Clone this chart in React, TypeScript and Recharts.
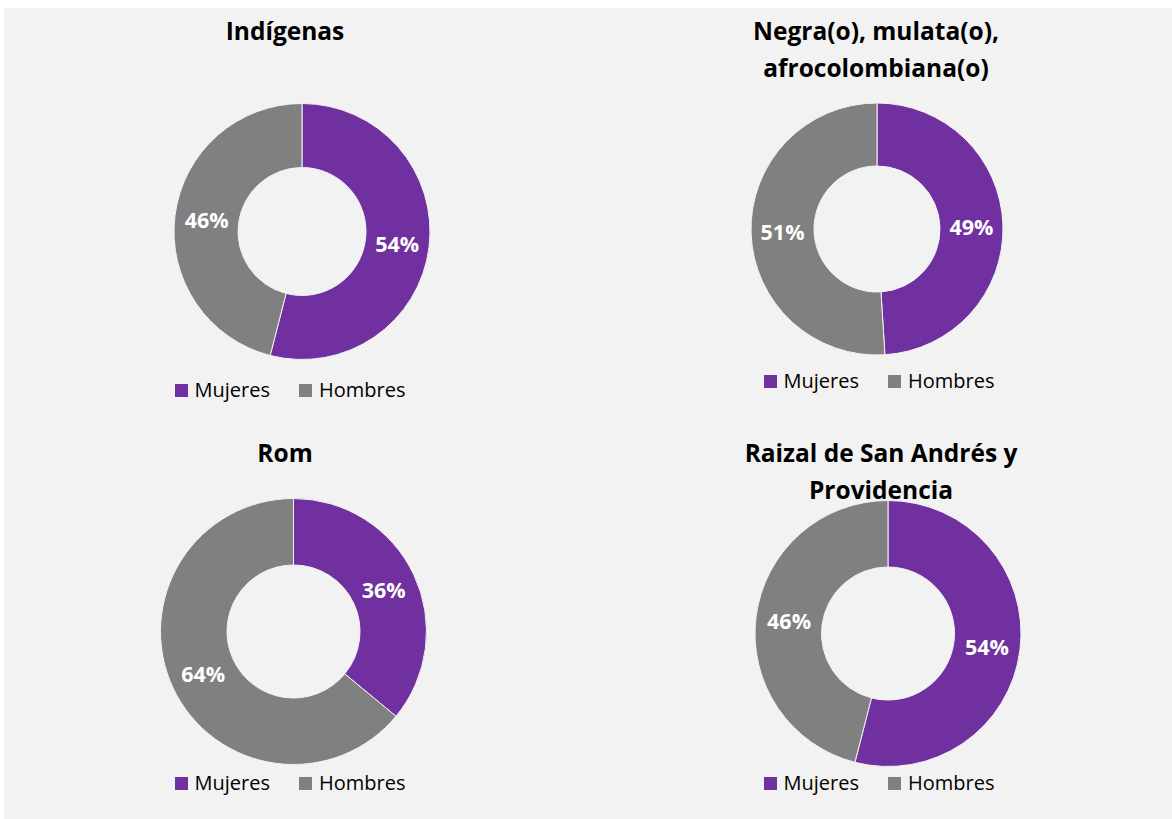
import React from 'react';
import { Cell, Legend, Pie, PieChart } from 'recharts';

// shares by sex for each ethnic group (%)
const groupTitles: string[][] = [
  ['Indígenas'],
  ['Negra(o), mulata(o),', 'afrocolombiana(o)'],
  ['Rom'],
  ['Raizal de San Andrés y', 'Providencia'],
];
const sexLabels = ['Mujeres', 'Hombres'];
const mujeresPct = [54, 49, 36, 54];
const hombresPct = [46, 51, 64, 46];

const COLORS = ['#7030A0', '#808080'];
const FONT = '"Open Sans", sans-serif';
const RADIAN = Math.PI / 180;

// panel layout (page coords)
const panels = [
  { left: 4, top: 8, cx: 298, cy: 223.5, r: 128, titleX: 281, titleY: 22, legendX: 286, legendY: 382 },
  { left: 588, top: 8, cx: 289, cy: 221, r: 126, titleX: 288, titleY: 22, legendX: 291, legendY: 373 },
  { left: 4, top: 413, cx: 289.5, cy: 218.5, r: 133, titleX: 281, titleY: 39, legendX: 286, legendY: 370 },
  { left: 588, top: 413, cx: 300, cy: 220.5, r: 133, titleX: 293, titleY: 39, legendX: 291, legendY: 370 },
];

const PW = 584;
const PH = 406;

const renderLabel = (props: any) => {
  const { cx, cy, midAngle, innerRadius, outerRadius, value } = props;
  const rr = (innerRadius + outerRadius) / 2;
  const x = cx + rr * Math.cos(-midAngle * RADIAN);
  const y = cy + rr * Math.sin(-midAngle * RADIAN);
  return (
    <text
      x={x}
      y={y}
      fill="#ffffff"
      textAnchor="middle"
      dominantBaseline="central"
      fontFamily={FONT}
      fontWeight={700}
      fontSize={21.5}
    >
      {`${value}%`}
    </text>
  );
};

const makeLegend = (shift: number) => () => (
  <div
    style={{
      width: PW,
      display: 'flex',
      justifyContent: 'center',
      transform: `translateX(${shift}px)`,
      fontFamily: FONT,
      fontSize: 20,
      color: '#000',
      lineHeight: '26px',
    }}
  >
    {sexLabels.map((s, i) => (
      <span key={s} style={{ display: 'flex', alignItems: 'center', marginRight: i === 0 ? 29 : 0 }}>
        <span style={{ width: 13, height: 13, background: COLORS[i], marginRight: 7, display: 'inline-block' }} />
        {s}
      </span>
    ))}
  </div>
);

const DonutPanel: React.FC<{ idx: number }> = ({ idx }) => {
  const p = panels[idx];
  const data = sexLabels.map((name, i) => ({
    name,
    value: i === 0 ? mujeresPct[idx] : hombresPct[idx],
  }));
  return (
    <div style={{ position: 'absolute', left: p.left, top: p.top, width: PW, height: PH }}>
      <div
        style={{
          position: 'absolute',
          left: p.titleX - 200,
          top: p.titleY - 18.5,
          width: 400,
          textAlign: 'center',
          fontFamily: FONT,
          fontWeight: 700,
          fontSize: 24.5,
          lineHeight: '37px',
          color: '#000',
          zIndex: 2,
        }}
      >
        {groupTitles[idx].map((t) => (
          <div key={t}>{t}</div>
        ))}
      </div>
      <PieChart width={PW} height={PH} margin={{ top: 0, right: 0, bottom: 0, left: 0 }}>
        <Pie
          data={data}
          dataKey="value"
          nameKey="name"
          cx={p.cx}
          cy={p.cy}
          innerRadius={p.r / 2}
          outerRadius={p.r}
          startAngle={90}
          endAngle={-270}
          stroke="#f2f2f2"
          strokeWidth={1}
          label={renderLabel}
          labelLine={false}
          isAnimationActive={false}
        >
          {data.map((d, i) => (
            <Cell key={d.name} fill={COLORS[i]} />
          ))}
        </Pie>
        <Legend
          content={makeLegend(p.legendX - PW / 2)}
          wrapperStyle={{ left: 0, top: p.legendY - 13, width: PW }}
        />
      </PieChart>
    </div>
  );
};

export default function App() {
  return (
    <div style={{ position: 'absolute', left: 0, top: 0, width: 1172, height: 819, background: '#ffffff', overflow: 'hidden' }}>
      <div style={{ position: 'absolute', left: 4, top: 8, width: 1168, height: 811, background: '#f2f2f2' }} />
      {panels.map((_, i) => (
        <DonutPanel key={i} idx={i} />
      ))}
    </div>
  );
}
